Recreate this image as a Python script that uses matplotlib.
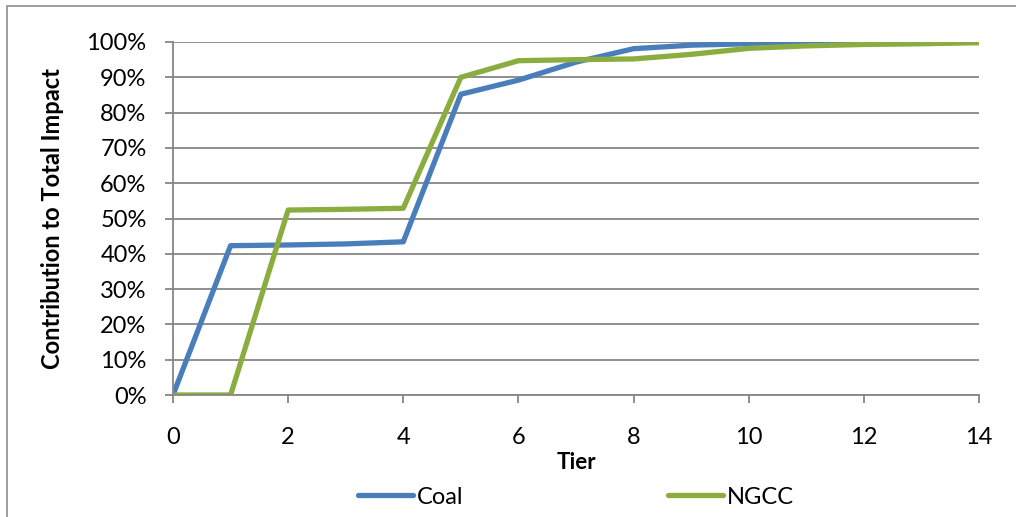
import matplotlib.pyplot as plt
from matplotlib.patches import Rectangle
from matplotlib.ticker import PercentFormatter

# contribution cumulee par tier (%)
tiers = list(range(15))
coal = [0, 42.3, 42.5, 42.8, 43.4, 85.2, 89.2, 94.3, 98.1, 99.1, 99.5, 99.7, 99.8, 99.9, 100]
ngcc = [0, 0, 52.4, 52.6, 52.9, 90.0, 94.7, 95.0, 95.2, 96.5, 98.2, 98.9, 99.3, 99.5, 99.8]

plt.rcParams['font.family'] = ['Lato', 'DejaVu Sans']
taille = 17

fig = plt.figure(figsize=(10.16, 5.17), dpi=100)
ax = fig.add_axes([173/1016, 1 - 395/517, (979 - 173)/1016, (395 - 42)/517])

# cadre du graphique
fig.patches.append(Rectangle((7/1016, -0.1), 1.2, 1 - 6/517 + 0.1, transform=fig.transFigure,
                             fill=False, edgecolor='#8c8c8c', linewidth=1.2))

gris = '#868686'
ax.plot(tiers, coal, color='#4A7EBB', linewidth=3.8, label='Coal', solid_capstyle='round')
ax.plot(tiers, ngcc, color='#8BAD3F', linewidth=3.8, label='NGCC', solid_capstyle='round')

ax.set_xlim(0, 14)
ax.set_ylim(0, 100)
ax.set_xticks(range(0, 15, 2))
ax.set_yticks(range(0, 101, 10))
ax.yaxis.set_major_formatter(PercentFormatter(decimals=0))
ax.grid(axis='y', color=gris, linewidth=1.3)
ax.set_axisbelow(True)

for s in ['top', 'right']:
    ax.spines[s].set_visible(False)
for s in ['left', 'bottom']:
    ax.spines[s].set_color(gris)
    ax.spines[s].set_linewidth(1.3)
ax.tick_params(axis='both', colors=gris, width=1.3, length=6, labelsize=taille, labelcolor='black')
ax.tick_params(axis='x', pad=17)
ax.tick_params(axis='y', pad=13)

ax.set_xlabel('Tier', fontsize=taille - 1, fontweight='bold', labelpad=3)
ax.set_ylabel('Contribution to Total Impact', fontsize=taille, fontweight='bold', labelpad=16)

fig.legend(loc='center', bbox_to_anchor=(0.567, 1 - 497/517), ncol=2, frameon=False,
           fontsize=taille, handlelength=2.3, handletextpad=0.17, columnspacing=8.7)

fig.savefig('out.png', dpi=100)
